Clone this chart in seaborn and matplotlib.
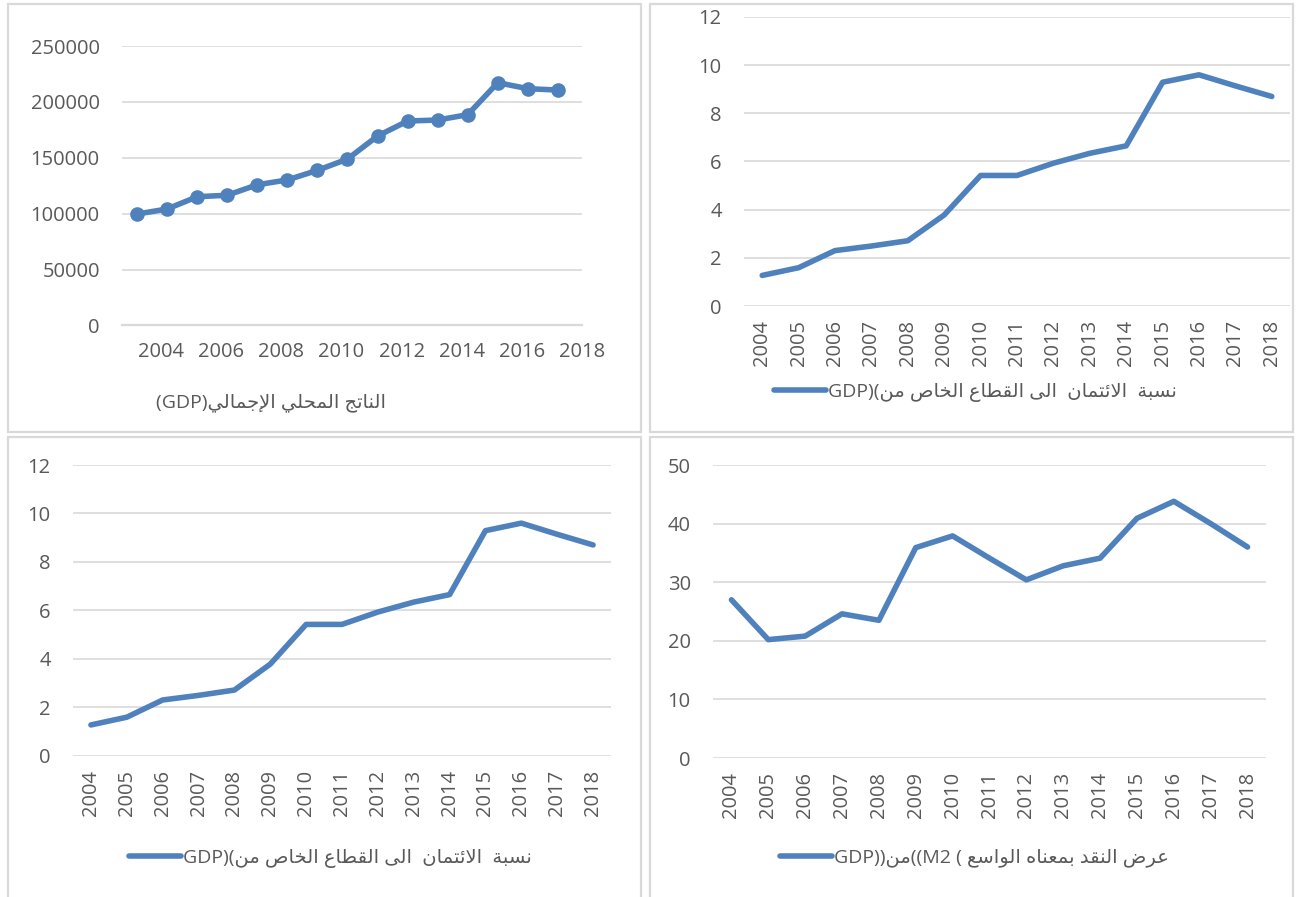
import numpy as np
import matplotlib
matplotlib.use('Agg')
from matplotlib import pyplot as plt
from matplotlib.patches import Rectangle
import seaborn as sns

years = list(range(2004, 2019))
gdp = [99700, 104200, 115200, 116500, 125900, 130200, 138800, 148900,
       169500, 182900, 183800, 188600, 217200, 211800, 210600]
credit_ratio = [1.27, 1.59, 2.30, 2.49, 2.71, 3.78, 5.42, 5.42,
                5.93, 6.34, 6.65, 9.29, 9.60, 9.14, 8.70]
m2_ratio = [27.0, 20.2, 20.8, 24.6, 23.5, 35.9, 37.9, 34.1,
            30.4, 32.8, 34.1, 40.9, 43.8, 40.0, 36.0]
gdp_ticks = [0, 50000, 100000, 150000, 200000, 250000]
ratio_ticks = [0, 2, 4, 6, 8, 10, 12]
m2_ticks = [0, 10, 20, 30, 40, 50]

# matplotlib has no arabic shaping, so pick presentation forms by hand
FORMS = {
    'ا': (0xFE8D, 0xFE8E, None, None), 'إ': (0xFE87, 0xFE88, None, None),
    'ب': (0xFE8F, 0xFE90, 0xFE91, 0xFE92), 'ة': (0xFE93, 0xFE94, None, None),
    'ت': (0xFE95, 0xFE96, 0xFE97, 0xFE98), 'ج': (0xFE9D, 0xFE9E, 0xFE9F, 0xFEA0),
    'ح': (0xFEA1, 0xFEA2, 0xFEA3, 0xFEA4), 'خ': (0xFEA5, 0xFEA6, 0xFEA7, 0xFEA8),
    'د': (0xFEA9, 0xFEAA, None, None), 'ر': (0xFEAD, 0xFEAE, None, None),
    'س': (0xFEB1, 0xFEB2, 0xFEB3, 0xFEB4), 'ص': (0xFEB9, 0xFEBA, 0xFEBB, 0xFEBC),
    'ض': (0xFEBD, 0xFEBE, 0xFEBF, 0xFEC0), 'ط': (0xFEC1, 0xFEC2, 0xFEC3, 0xFEC4),
    'ع': (0xFEC9, 0xFECA, 0xFECB, 0xFECC), 'ق': (0xFED5, 0xFED6, 0xFED7, 0xFED8),
    'ل': (0xFEDD, 0xFEDE, 0xFEDF, 0xFEE0), 'م': (0xFEE1, 0xFEE2, 0xFEE3, 0xFEE4),
    'ن': (0xFEE5, 0xFEE6, 0xFEE7, 0xFEE8), 'ه': (0xFEE9, 0xFEEA, 0xFEEB, 0xFEEC),
    'و': (0xFEED, 0xFEEE, None, None), 'ى': (0xFEEF, 0xFEF0, None, None),
    'ي': (0xFEF1, 0xFEF2, 0xFEF3, 0xFEF4), 'ئ': (0xFE89, 0xFE8A, 0xFE8B, 0xFE8C),
}
LAM_ALEF = {'ا': (0xFEFB, 0xFEFC), 'إ': (0xFEF9, 0xFEFA)}


def shape(text):
    tokens = []
    i = 0
    while i < len(text):
        if text[i] == 'ل' and i + 1 < len(text) and text[i + 1] in LAM_ALEF:
            tokens.append(('LA', text[i + 1]))
            i += 2
        else:
            tokens.append(('C', text[i]))
            i += 1

    def is_ar(t):
        return t[0] == 'LA' or t[1] in FORMS

    def joins_next(t):
        return t[0] == 'C' and t[1] in FORMS and FORMS[t[1]][2] is not None

    out = []
    for k, t in enumerate(tokens):
        if not is_ar(t):
            out.append(t[1])
            continue
        jp = k > 0 and joins_next(tokens[k - 1])
        jn = k + 1 < len(tokens) and is_ar(tokens[k + 1]) and joins_next(t)
        if t[0] == 'LA':
            iso, fin = LAM_ALEF[t[1]]
            out.append(chr(fin if jp else iso))
        else:
            iso, fin, ini, med = FORMS[t[1]]
            code = med if (jp and jn) else fin if jp else ini if jn else iso
            out.append(chr(code))
    return ''.join(out)


def rtl(text):
    return shape(text)[::-1]


gdp_label = '(GDP)' + rtl('الناتج المحلي الإجمالي')
credit_label = 'GDP)(' + rtl('نسبة  الائتمان  الى القطاع الخاص من')
m2_label = 'GDP))' + rtl('من') + '((M2 ( ' + rtl('عرض النقد بمعناه الواسع')

sns.set_style('white')
plt.rcParams['font.family'] = ['Open Sans', 'DejaVu Sans']

blue = '#4F81BD'
grid = '#D9D9D9'
txt = '#595959'
W, H = 1297, 897
tick_fs = 14.5
lab_fs = 14

fig = plt.figure(figsize=(W / 100, H / 100), dpi=100)


def add_ax(x0, y0, x1, y1):
    return fig.add_axes([x0 / W, 1 - y1 / H, (x1 - x0) / W, (y1 - y0) / H])


def style(ax, ticks):
    ax.set_ylim(ticks[0], ticks[-1])
    ax.set_yticks(ticks)
    ax.set_xlim(years[0] - 0.5, years[-1] + 0.5)
    for s in ax.spines.values():
        s.set_visible(False)
    ax.grid(axis='y', color=grid, lw=1.2)
    ax.set_axisbelow(True)
    ax.tick_params(axis='y', length=0, pad=16, labelsize=tick_fs, labelcolor=txt)
    ax.set_xlabel('')
    ax.set_ylabel('')


# panel frames
for (x0, y0, x1, y1) in [(8, 4, 641, 432), (650, 4, 1293, 432),
                         (8, 437, 641, 905), (650, 437, 1293, 905)]:
    fig.add_artist(Rectangle((x0 / W, 1 - y1 / H), (x1 - x0) / W, (y1 - y0) / H,
                             transform=fig.transFigure, fill=False,
                             edgecolor=grid, lw=1.6))

# top left: GDP with markers
ax1 = add_ax(122, 46, 582, 325.5)
sns.lineplot(x=years, y=gdp, ax=ax1, color=blue, lw=4.0, marker='o',
             markersize=10.5, markeredgewidth=0)
style(ax1, gdp_ticks)
ax1.spines['bottom'].set_visible(True)
ax1.spines['bottom'].set_color(grid)
ax1.spines['bottom'].set_linewidth(1.6)
ax1.set_xticks([y + 0.8 for y in years[::2]])
ax1.set_xticklabels([str(y) for y in years[::2]])
ax1.set_xticks([y - 0.5 for y in years] + [years[-1] + 0.5], minor=True)
ax1.tick_params(axis='x', which='major', length=0, pad=12, labelsize=tick_fs, labelcolor=txt)
ax1.tick_params(axis='x', which='minor', length=7, width=1.4, color=grid, direction='out')
ax1.text(0.324, -0.277, gdp_label, transform=ax1.transAxes, ha='center', va='center',
         fontsize=lab_fs, color=txt)

# top right and bottom left: credit ratio, bottom right: M2
ax2 = add_ax(744, 17, 1290, 306)
ax3 = add_ax(73, 465, 611, 755.7)
ax4 = add_ax(713, 465, 1266, 758)

panels = [(ax2, credit_ratio, ratio_ticks, credit_label, (0.424, -0.30)),
          (ax3, credit_ratio, ratio_ticks, credit_label, (0.478, -0.352)),
          (ax4, m2_ratio, m2_ticks, m2_label, (0.473, -0.341))]

for ax, vals, ticks, lab, anchor in panels:
    sns.lineplot(x=years, y=vals, ax=ax, color=blue, lw=4.0, label=lab)
    style(ax, ticks)
    ax.set_xticks(years)
    ax.set_xticklabels([str(y) for y in years], rotation=90)
    ax.tick_params(axis='x', length=0, pad=10, labelsize=tick_fs, labelcolor=txt)
    ax.legend(loc='center', bbox_to_anchor=anchor, frameon=False, fontsize=lab_fs,
              labelcolor=txt, handlelength=2.7, handletextpad=0.1)

fig.savefig('out.png', dpi=100)
